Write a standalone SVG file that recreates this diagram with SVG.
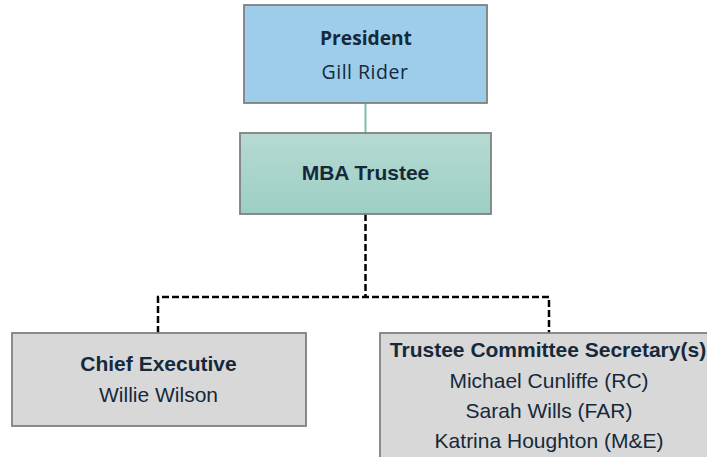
<svg xmlns="http://www.w3.org/2000/svg" width="707" height="457" viewBox="0 0 707 457">
  <defs>
    <linearGradient id="tealFill" x1="0" y1="0" x2="0" y2="1">
      <stop offset="0" stop-color="#B6DAD3"/>
      <stop offset="1" stop-color="#9CCFC4"/>
    </linearGradient>
    <style>
      .box { stroke: #808080; stroke-width: 1.8; }
      .blue { fill: #9DCDEA; }
      .teal { fill: url(#tealFill); }
      .grey { fill: #D8D8D8; }
      .t { fill: #15293A; text-anchor: middle; }
      .geo { font-family: "Open Sans", "Noto Sans", sans-serif; }
      .ar { font-family: "Liberation Sans", Arial, sans-serif; font-size: 21px; }
      .b { font-weight: bold; }
      .solid { fill: none; stroke: #7DBDAF; stroke-width: 2; }
      .dash { fill: none; stroke: #000; stroke-width: 2.5; stroke-dasharray: 7 3; }
    </style>
  </defs>

  <g id="connectors">
    <line class="solid" x1="365.5" y1="103" x2="365.5" y2="133"/>
    <path class="dash" d="M365.5 214 V297 M158 333 V297 H549 V333"/>
  </g>

  <g id="president">
    <rect class="box blue" x="244" y="5" width="243" height="98"/>
    <text class="t geo b" x="366" y="45" font-size="19.2">President</text>
    <text class="t geo" x="365" y="79" font-size="19.5" letter-spacing="0.5">Gill Rider</text>
  </g>

  <g id="mba-trustee">
    <rect class="box teal" x="240" y="133" width="251" height="81"/>
    <text class="t ar b" x="365.5" y="180">MBA Trustee</text>
  </g>

  <g id="chief-executive">
    <rect class="box grey" x="12" y="333" width="294" height="93"/>
    <text class="t ar b" x="158.5" y="370.5">Chief Executive</text>
    <text class="t ar" x="158.5" y="402">Willie Wilson</text>
  </g>

  <g id="committee-secretaries">
    <rect class="box grey" x="380" y="333" width="338" height="130"/>
    <text class="t ar b" x="548" y="357">Trustee Committee Secretary(s)</text>
    <text class="t ar" x="549" y="388">Michael Cunliffe (RC)</text>
    <text class="t ar" x="549" y="418">Sarah Wills (FAR)</text>
    <text class="t ar" x="549" y="448">Katrina Houghton (M&amp;E)</text>
  </g>
</svg>
